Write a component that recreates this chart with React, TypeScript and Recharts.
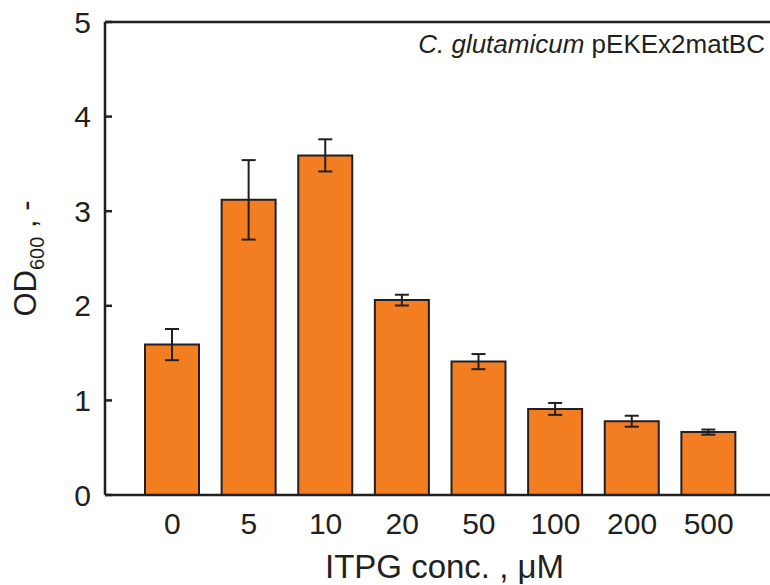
import React from 'react';
import { BarChart, Bar, XAxis, YAxis, ErrorBar, ReferenceLine } from 'recharts';

// ITPG concentration (µM) on the x axis
const concs = ['0', '5', '10', '20', '50', '100', '200', '500'];
// mean OD600 and its error
const od600 = [1.59, 3.12, 3.59, 2.06, 1.41, 0.91, 0.78, 0.665];
const od600Err = [0.165, 0.42, 0.17, 0.057, 0.08, 0.063, 0.058, 0.027];
const yTicks = [0, 1, 2, 3, 4, 5];

const data = concs.map((c, i) => ({ conc: c, od: od600[i], err: od600Err[i] }));

const FONT = '"Liberation Sans", Arial, sans-serif';
const INK = '#231F20';
const ORANGE = '#F27E21';

const YTitle = (props: any) => {
  const vb = props.viewBox;
  const cy = vb.y + vb.height / 2;
  return (
    <text
      x={36}
      y={cy}
      transform={`rotate(-90, 36, ${cy})`}
      textAnchor="middle"
      fontFamily={FONT}
      fontSize={31}
      fill={INK}
    >
      OD
      <tspan fontSize={20} dy={8}>600</tspan>
      <tspan dy={-8}> , -</tspan>
    </text>
  );
};

const XTitle = (props: any) => {
  const vb = props.viewBox;
  return (
    <text x={vb.x + vb.width / 2 + 4} y={vb.y + 83} textAnchor="middle" fontFamily={FONT} fontSize={33} fill={INK}>
      ITPG conc. , μM
    </text>
  );
};

const StrainNote = (props: any) => {
  const vb = props.viewBox;
  return (
    <text x={765} y={vb.y + 31} textAnchor="end" fontFamily={FONT} fontSize={26} fill={INK}>
      <tspan fontStyle="italic">C. glutamicum</tspan> pEKEx2matBC
    </text>
  );
};

export default function App() {
  return (
    <div style={{ position: 'absolute', left: 0, top: 0, width: 770, height: 585, overflow: 'hidden', background: '#fff' }}>
      <BarChart width={780} height={585} data={data} margin={{ top: 22, right: 0, left: 0, bottom: 30 }}>
        <XAxis
          dataKey="conc"
          height={60}
          padding={{ left: 29, right: 29 }}
          axisLine={{ stroke: INK, strokeWidth: 2.5 }}
          tickLine={false}
          tickSize={0}
          tickMargin={18}
          tick={{ fill: INK, fontSize: 30, fontFamily: FONT }}
          label={<XTitle />}
        />
        <YAxis
          width={105}
          domain={[0, 5]}
          ticks={yTicks}
          allowDataOverflow
          axisLine={{ stroke: INK, strokeWidth: 2.5 }}
          tickLine={{ stroke: INK, strokeWidth: 2.5 }}
          tickSize={-7}
          tickMargin={21}
          tick={{ fill: INK, fontSize: 30, fontFamily: FONT }}
          label={<YTitle />}
        />
        <YAxis
          yAxisId="right"
          orientation="right"
          width={4}
          domain={[0, 5]}
          ticks={yTicks}
          axisLine={{ stroke: INK, strokeWidth: 2.5 }}
          tickLine={{ stroke: '#999', strokeWidth: 1.5 }}
          tickSize={-7}
          tickFormatter={() => ''}
        />
        <ReferenceLine y={5} stroke={INK} strokeWidth={2.5} ifOverflow="visible" label={<StrainNote />} />
        <Bar dataKey="od" fill={ORANGE} stroke={INK} strokeWidth={2} barSize={54} isAnimationActive={false}>
          <ErrorBar dataKey="err" width={7} stroke={INK} strokeWidth={2} isAnimationActive={false} />
        </Bar>
      </BarChart>
    </div>
  );
}
